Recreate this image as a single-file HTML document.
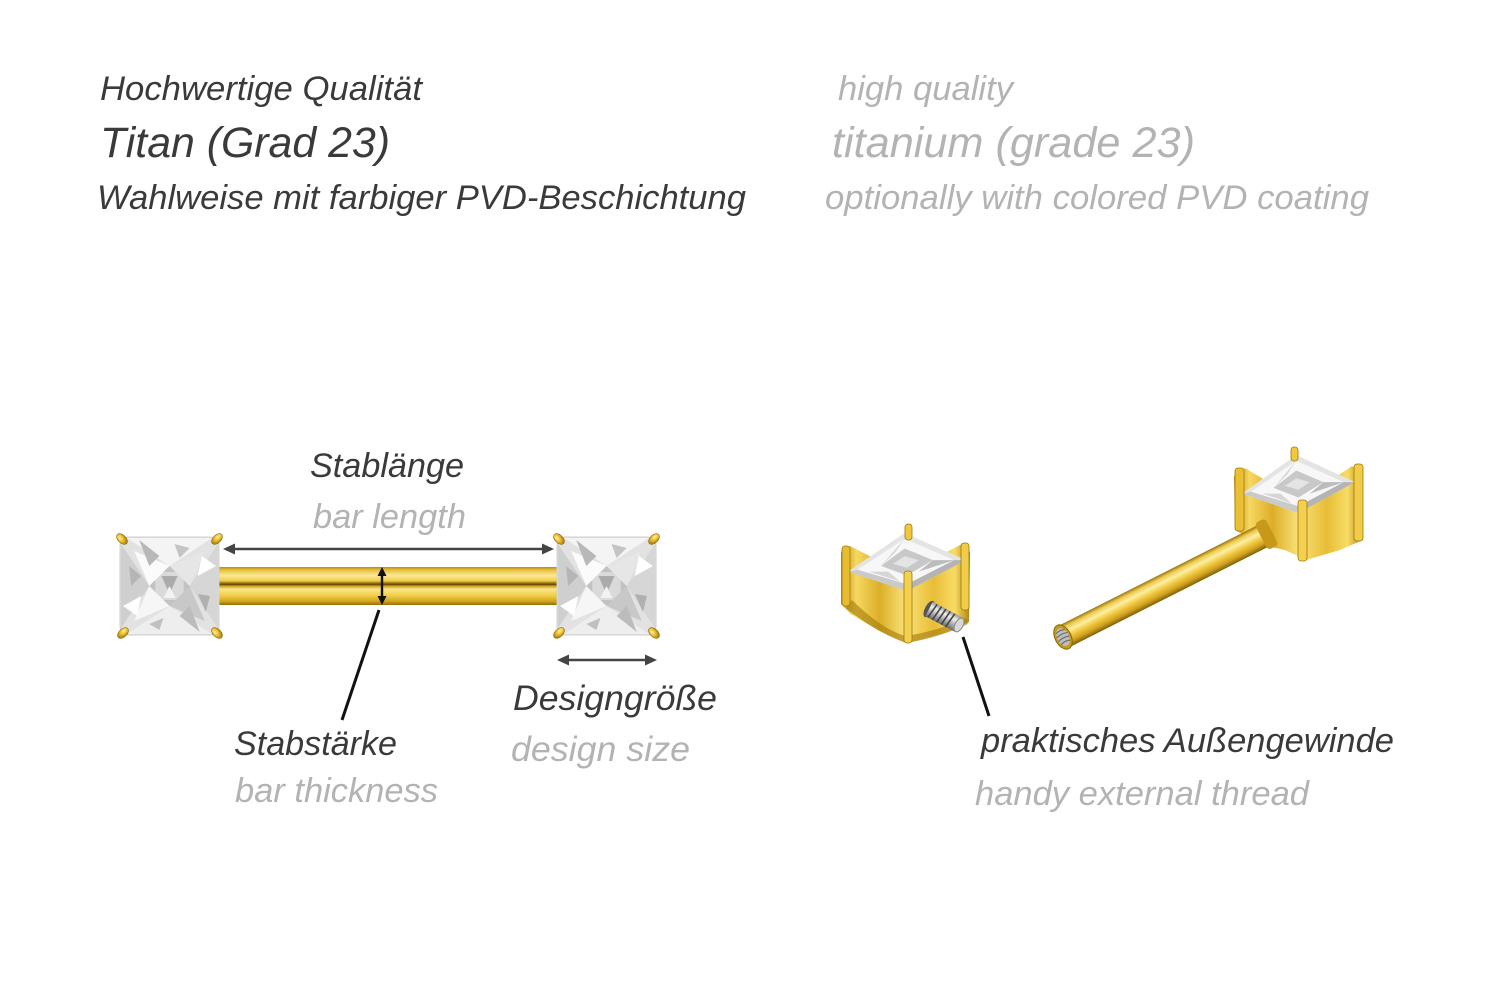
<!DOCTYPE html>
<html>
<head>
<meta charset="utf-8">
<style>
  html,body{margin:0;padding:0;background:#fff;}
  svg{display:block;}
  .t{font-family:"Liberation Sans",Arial,sans-serif;font-style:italic;}
  .d{fill:#3a3a3a;}
  .g{fill:#b3b3b3;}
</style>
</head>
<body>
<svg width="1500" height="1001" viewBox="0 0 1500 1001" xmlns="http://www.w3.org/2000/svg">
  <defs>
    <linearGradient id="barV" x1="0" y1="0" x2="0" y2="1">
      <stop offset="0" stop-color="#b88c12"/>
      <stop offset="0.08" stop-color="#e8c040"/>
      <stop offset="0.22" stop-color="#fbe894"/>
      <stop offset="0.36" stop-color="#f0cf50"/>
      <stop offset="0.42" stop-color="#a27a0c"/>
      <stop offset="0.46" stop-color="#5e4304"/>
      <stop offset="0.50" stop-color="#c9a020"/>
      <stop offset="0.58" stop-color="#fbe58a"/>
      <stop offset="0.75" stop-color="#f2cf48"/>
      <stop offset="0.90" stop-color="#d2a51c"/>
      <stop offset="1" stop-color="#94700a"/>
    </linearGradient>
    <linearGradient id="barD" x1="0" y1="0" x2="0" y2="1">
      <stop offset="0" stop-color="#9a740a"/>
      <stop offset="0.15" stop-color="#eccb50"/>
      <stop offset="0.35" stop-color="#fdeea4"/>
      <stop offset="0.55" stop-color="#f2cc44"/>
      <stop offset="0.8" stop-color="#d0a020"/>
      <stop offset="1" stop-color="#7e5e06"/>
    </linearGradient>
    <linearGradient id="goldH" x1="0" y1="0" x2="1" y2="0">
      <stop offset="0" stop-color="#c09018"/>
      <stop offset="0.12" stop-color="#f6d860"/>
      <stop offset="0.3" stop-color="#dcae28"/>
      <stop offset="0.5" stop-color="#fae27a"/>
      <stop offset="0.72" stop-color="#e8bd36"/>
      <stop offset="0.88" stop-color="#f8dc66"/>
      <stop offset="1" stop-color="#b08410"/>
    </linearGradient>
    <linearGradient id="silver" x1="0" y1="0" x2="0" y2="1">
      <stop offset="0" stop-color="#9a9a9a"/>
      <stop offset="0.3" stop-color="#f0f0f0"/>
      <stop offset="0.6" stop-color="#b8b8b8"/>
      <stop offset="1" stop-color="#6a6a6a"/>
    </linearGradient>
    <radialGradient id="prong" cx="0.4" cy="0.35" r="0.7">
      <stop offset="0" stop-color="#fff2a0"/>
      <stop offset="0.5" stop-color="#e6b82a"/>
      <stop offset="1" stop-color="#9a7308"/>
    </radialGradient>
    <symbol id="gem" viewBox="0 0 100 100" preserveAspectRatio="none">
      <rect x="1" y="1" width="98" height="98" rx="9" fill="#e2e2e2" stroke="#cfcfcf" stroke-width="1"/>
      <polygon points="8,2 50,30 92,2" fill="#f4f4f4"/>
      <polygon points="8,98 50,70 92,98" fill="#eeeeee"/>
      <polygon points="2,8 30,50 2,92" fill="#cfcfcf"/>
      <polygon points="98,8 70,50 98,92" fill="#d6d6d6"/>
      <polygon points="30,30 70,30 70,70 30,70" fill="#c2c2c2"/>
      <polygon points="36,36 64,36 64,64 36,64" fill="#dadada"/>
      <polygon points="15,15 50,30 30,50" fill="#fbfbfb"/>
      <polygon points="85,15 50,30 70,50" fill="#e6e6e6"/>
      <polygon points="15,85 30,50 50,70" fill="#f6f6f6"/>
      <polygon points="85,85 70,50 50,70" fill="#c8c8c8"/>
      <polygon points="20,4 40,20 30,30" fill="#b8b8b8"/>
      <polygon points="80,96 60,80 70,70" fill="#bcbcbc"/>
      <polygon points="4,70 22,60 18,80" fill="#ffffff"/>
      <polygon points="96,30 78,40 82,20" fill="#ffffff"/>
      <polygon points="42,40 58,40 50,58" fill="#ababab"/>
      <polygon points="44,62 56,62 50,50" fill="#f2f2f2"/>
      <polygon points="10,30 22,40 12,50" fill="#b5b5b5"/>
      <polygon points="90,60 78,58 86,76" fill="#b0b0b0"/>
      <polygon points="55,8 70,12 60,22" fill="#c4c4c4"/>
      <polygon points="30,88 44,82 40,94" fill="#c0c0c0"/>
    </symbol>
    <symbol id="gemTop" viewBox="0 0 100 60" preserveAspectRatio="none">
      <polygon points="0,40 48,0 100,28 50,60" fill="#e4e4e4"/>
      <polygon points="8,38 48,6 90,28 50,53" fill="#f7f7f7"/>
      <polygon points="28,34 48,16 72,28 50,44" fill="#c8c8c8"/>
      <polygon points="38,32 48,24 60,28 50,36" fill="#e4e4e4"/>
      <polygon points="48,6 40,20 28,34" fill="#d4d4d4"/>
      <polygon points="72,28 90,28 60,40" fill="#bcbcbc"/>
      <polygon points="18,40 34,40 44,50" fill="#d6d6d6"/>
      <polygon points="0,40 50,60 50,53 8,38" fill="#cacaca"/>
      <polygon points="100,28 50,60 50,53 90,28" fill="#b4b4b4"/>
    </symbol>
  </defs>

  <!-- Header text -->
  <text class="t d" x="100" y="100" font-size="34" textLength="322" lengthAdjust="spacingAndGlyphs">Hochwertige Qualität</text>
  <text class="t d" x="100" y="157" font-size="43" textLength="290" lengthAdjust="spacingAndGlyphs">Titan (Grad 23)</text>
  <text class="t d" x="97" y="209" font-size="34" textLength="649" lengthAdjust="spacingAndGlyphs">Wahlweise mit farbiger PVD-Beschichtung</text>

  <text class="t g" x="838" y="100" font-size="34" textLength="175" lengthAdjust="spacingAndGlyphs">high quality</text>
  <text class="t g" x="832" y="157" font-size="43" textLength="363" lengthAdjust="spacingAndGlyphs">titanium (grade 23)</text>
  <text class="t g" x="825" y="209" font-size="34" textLength="544" lengthAdjust="spacingAndGlyphs">optionally with colored PVD coating</text>

  <!-- Left barbell -->
  <rect x="218" y="567" width="341" height="38" fill="url(#barV)"/>
  <use href="#gem" x="119" y="536" width="101" height="100"/>
  <use href="#gem" x="556" y="536" width="101" height="100"/>
  <g fill="url(#prong)" stroke="#8a6606" stroke-width="0.6">
    <ellipse cx="122" cy="539" rx="4" ry="6.5" transform="rotate(-45 122 539)"/>
    <ellipse cx="217" cy="539" rx="4" ry="6.5" transform="rotate(45 217 539)"/>
    <ellipse cx="123" cy="633" rx="4" ry="6.5" transform="rotate(45 123 633)"/>
    <ellipse cx="217" cy="633" rx="4" ry="6.5" transform="rotate(-45 217 633)"/>
    <ellipse cx="559" cy="539" rx="4" ry="6.5" transform="rotate(-45 559 539)"/>
    <ellipse cx="654" cy="539" rx="4" ry="6.5" transform="rotate(45 654 539)"/>
    <ellipse cx="559" cy="633" rx="4" ry="6.5" transform="rotate(45 559 633)"/>
    <ellipse cx="654" cy="633" rx="4" ry="6.5" transform="rotate(-45 654 633)"/>
  </g>

  <!-- bar length arrow -->
  <line x1="232" y1="549" x2="545" y2="549" stroke="#444" stroke-width="2.6"/>
  <polygon points="223,549 235,543.5 235,554.5" fill="#444"/>
  <polygon points="554,549 542,543.5 542,554.5" fill="#444"/>

  <!-- design size arrow -->
  <line x1="566" y1="660" x2="648" y2="660" stroke="#444" stroke-width="2.6"/>
  <polygon points="557,660 569,654.5 569,665.5" fill="#444"/>
  <polygon points="657,660 645,654.5 645,665.5" fill="#444"/>

  <!-- bar thickness arrow -->
  <line x1="382" y1="574" x2="382" y2="598" stroke="#111" stroke-width="2.4"/>
  <polygon points="382,567 377.5,576 386.5,576" fill="#111"/>
  <polygon points="382,605 377.5,596 386.5,596" fill="#111"/>

  <line x1="379" y1="610" x2="342" y2="720" stroke="#111" stroke-width="3"/>

  <!-- Left labels -->
  <text class="t d" x="310" y="477" font-size="34" textLength="154" lengthAdjust="spacingAndGlyphs">Stablänge</text>
  <text class="t g" x="313" y="528" font-size="34" textLength="153" lengthAdjust="spacingAndGlyphs">bar length</text>
  <text class="t d" x="234" y="755" font-size="34" textLength="163" lengthAdjust="spacingAndGlyphs">Stabstärke</text>
  <text class="t g" x="235" y="802" font-size="34" textLength="203" lengthAdjust="spacingAndGlyphs">bar thickness</text>
  <text class="t d" x="513" y="710" font-size="35" textLength="204" lengthAdjust="spacingAndGlyphs">Designgröße</text>
  <text class="t g" x="511" y="761" font-size="35" textLength="179" lengthAdjust="spacingAndGlyphs">design size</text>

  <!-- Right: small head with external thread -->
  <path d="M841,552 L850,546 L905,574 L962,544 L970,552 L969,622 L948,632 L912,642 L903,642 L878,630 L851,614 L841,604 Z" fill="url(#goldH)"/>
  <path d="M852,600 Q880,628 905,636 Q935,632 966,618 L968,624 Q938,638 906,643 Q875,632 846,608 Z" fill="#a47a0a" opacity="0.6"/>
  <use href="#gemTop" x="848" y="533" width="118" height="58"/>
  <rect x="842" y="546" width="8" height="60" rx="3" fill="#e8bc30" stroke="#a07808" stroke-width="0.8"/>
  <rect x="961" y="543" width="8" height="67" rx="3" fill="#f0cc48" stroke="#a07808" stroke-width="0.8"/>
  <rect x="904" y="571" width="8" height="72" rx="3" fill="#f4d050" stroke="#a07808" stroke-width="0.8"/>
  <rect x="905" y="524" width="7" height="16" rx="3" fill="#f0c840" stroke="#a07808" stroke-width="0.8"/>
  <g transform="translate(929,609) rotate(28)">
    <ellipse cx="0" cy="0" rx="4" ry="9" fill="#555"/>
    <rect x="0" y="-8" width="34" height="16" fill="url(#silver)"/>
    <g stroke="#444" stroke-width="1.6">
      <line x1="5" y1="-8" x2="3" y2="8"/>
      <line x1="10" y1="-8" x2="8" y2="8"/>
      <line x1="15" y1="-8" x2="13" y2="8"/>
      <line x1="20" y1="-8" x2="18" y2="8"/>
      <line x1="25" y1="-8" x2="23" y2="8"/>
    </g>
    <ellipse cx="34" cy="0" rx="4" ry="7.5" fill="#d8d8d8" stroke="#888" stroke-width="1"/>
  </g>
  <line x1="963" y1="637" x2="989" y2="716" stroke="#111" stroke-width="3"/>

  <!-- Right: bar with head -->
  <path d="M1234,476 L1245,468 L1300,501 L1352,466 L1362,474 L1363,540 L1340,550 L1306,560 L1285,550 L1262,545 L1235,530 Z" fill="url(#goldH)"/>
  <g transform="translate(1063,637) rotate(-26.8)">
    <rect x="0" y="-12" width="232" height="24" fill="url(#barD)"/>
    <rect x="222" y="-15" width="12" height="30" rx="4" fill="#c8981a"/>
    <ellipse cx="0" cy="0" rx="8" ry="13" fill="#c89a1c" stroke="#8a6808" stroke-width="1"/>
    <ellipse cx="0" cy="0" rx="6" ry="9.5" fill="#bdbdbd"/>
    <g stroke="#6a6a6a" stroke-width="1.1" fill="none">
      <path d="M-5,-6 Q0,-8 5,-6"/>
      <path d="M-6,-2 Q0,-4 6,-2"/>
      <path d="M-6,2 Q0,0 6,2"/>
      <path d="M-5,6 Q0,4 5,6"/>
    </g>
  </g>
  <use href="#gemTop" x="1242" y="455" width="113" height="58"/>
  <rect x="1235" y="468" width="9" height="63" rx="3" fill="#eabf34" stroke="#a07808" stroke-width="0.8"/>
  <rect x="1354" y="464" width="9" height="77" rx="3" fill="#f0cc48" stroke="#a07808" stroke-width="0.8"/>
  <rect x="1298" y="500" width="9" height="61" rx="3" fill="#f4d050" stroke="#a07808" stroke-width="0.8"/>
  <rect x="1291" y="447" width="7" height="14" rx="3" fill="#f0c840" stroke="#a07808" stroke-width="0.8"/>

  <!-- Right labels -->
  <text class="t d" x="981" y="752" font-size="34" textLength="413" lengthAdjust="spacingAndGlyphs">praktisches Außengewinde</text>
  <text class="t g" x="975" y="805" font-size="34" textLength="334" lengthAdjust="spacingAndGlyphs">handy external thread</text>
</svg>
</body>
</html>
